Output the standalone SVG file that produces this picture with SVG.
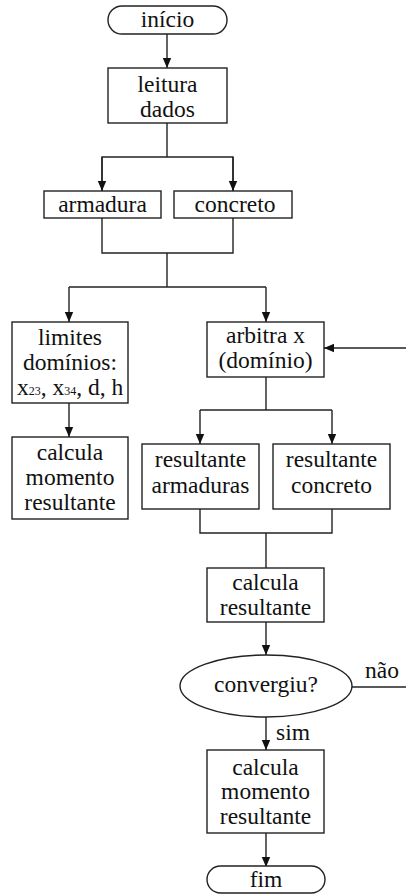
<svg xmlns="http://www.w3.org/2000/svg" width="406" height="894" viewBox="0 0 406 894">
  <style>
    .box { fill: #fff; stroke: #222; stroke-width: 1.4; }
    .wire { fill: none; stroke: #222; stroke-width: 1.4; }
    .lbl { font-family: "Liberation Serif", "Times New Roman", serif; font-size: 23.5px; fill: #111; text-anchor: middle; }
    .side { text-anchor: start; }
  </style>
  <defs>
    <marker id="arrow" markerUnits="userSpaceOnUse" markerWidth="10" markerHeight="10" refX="10" refY="5" orient="auto">
      <path d="M0,0.8 L10,5 L0,9.2 z" fill="#111"/>
    </marker>
  </defs>
  <rect width="406" height="894" fill="#fff"/>

  <!-- connectors -->
  <g id="connectors">
    <line class="wire" x1="167" y1="34" x2="167" y2="68" marker-end="url(#arrow)"/>
    <polyline class="wire" points="167,123 167,157"/>
    <polyline class="wire" points="102,191 102,157 233,157 233,191"/>
    <line class="wire" x1="102" y1="157" x2="102" y2="191" marker-end="url(#arrow)"/>
    <line class="wire" x1="233" y1="157" x2="233" y2="191" marker-end="url(#arrow)"/>
    <polyline class="wire" points="102,218 102,253 233,253 233,218"/>
    <polyline class="wire" points="167,253 167,287"/>
    <polyline class="wire" points="69,287 266,287"/>
    <line class="wire" x1="69" y1="287" x2="69" y2="322" marker-end="url(#arrow)"/>
    <line class="wire" x1="266" y1="287" x2="266" y2="322" marker-end="url(#arrow)"/>
    <line class="wire" x1="69" y1="403" x2="69" y2="437" marker-end="url(#arrow)"/>
    <line class="wire" x1="406" y1="348" x2="324" y2="348" marker-end="url(#arrow)"/>
    <polyline class="wire" points="266,377 266,410"/>
    <polyline class="wire" points="200,410 332,410"/>
    <line class="wire" x1="200" y1="410" x2="200" y2="444" marker-end="url(#arrow)"/>
    <line class="wire" x1="332" y1="410" x2="332" y2="444" marker-end="url(#arrow)"/>
    <polyline class="wire" points="200,509 200,533 332,533 332,509"/>
    <polyline class="wire" points="266,533 266,568"/>
    <line class="wire" x1="266" y1="622" x2="266" y2="655" marker-end="url(#arrow)"/>
    <line class="wire" x1="352" y1="687" x2="406" y2="687"/>
    <line class="wire" x1="266" y1="717" x2="266" y2="750" marker-end="url(#arrow)"/>
    <line class="wire" x1="266" y1="833" x2="266" y2="867" marker-end="url(#arrow)"/>
    <text class="lbl side" x="365" y="678">não</text>
    <text class="lbl side" x="276" y="740">sim</text>
  </g>

  <g id="inicio">
    <rect class="box" x="108" y="6" width="119" height="28" rx="14"/>
    <text class="lbl" x="167.5" y="27">início</text>
  </g>

  <g id="leitura">
    <rect class="box" x="108" y="68" width="119" height="55"/>
    <text class="lbl" x="167.5" y="92">leitura</text>
    <text class="lbl" x="167.5" y="117">dados</text>
  </g>

  <g id="armadura">
    <rect class="box" x="44" y="191" width="117" height="27"/>
    <text class="lbl" x="102.5" y="212">armadura</text>
  </g>

  <g id="concreto">
    <rect class="box" x="174" y="191" width="118" height="27"/>
    <text class="lbl" x="235" y="212">concreto</text>
  </g>

  <g id="limites">
    <rect class="box" x="12" y="322" width="116" height="81"/>
    <text class="lbl" x="70" y="345">limites</text>
    <text class="lbl" x="70" y="370">domínios:</text>
    <text class="lbl" x="70" y="395">x<tspan font-size="12">23</tspan>, x<tspan font-size="12">34</tspan>, d, h</text>
  </g>

  <g id="momento-esq">
    <rect class="box" x="12" y="437" width="116" height="82"/>
    <text class="lbl" x="70" y="460">calcula</text>
    <text class="lbl" x="70" y="485">momento</text>
    <text class="lbl" x="70" y="510">resultante</text>
  </g>

  <g id="arbitra">
    <rect class="box" x="207" y="322" width="117" height="55"/>
    <text class="lbl" x="265.5" y="343">arbitra x</text>
    <text class="lbl" x="265.5" y="368">(domínio)</text>
  </g>

  <g id="res-armaduras">
    <rect class="box" x="142" y="444" width="117" height="65"/>
    <text class="lbl" x="200.5" y="467">resultante</text>
    <text class="lbl" x="200.5" y="493">armaduras</text>
  </g>

  <g id="res-concreto">
    <rect class="box" x="273" y="444" width="117" height="65"/>
    <text class="lbl" x="331.5" y="467">resultante</text>
    <text class="lbl" x="331.5" y="493">concreto</text>
  </g>

  <g id="calcula-resultante">
    <rect class="box" x="207" y="568" width="117" height="54"/>
    <text class="lbl" x="265.5" y="590">calcula</text>
    <text class="lbl" x="265.5" y="615">resultante</text>
  </g>

  <g id="convergiu">
    <ellipse class="box" cx="266" cy="686" rx="86" ry="31"/>
    <text class="lbl" x="266" y="692">convergiu?</text>
  </g>

  <g id="momento-dir">
    <rect class="box" x="207" y="750" width="117" height="83"/>
    <text class="lbl" x="265.5" y="775">calcula</text>
    <text class="lbl" x="265.5" y="799">momento</text>
    <text class="lbl" x="265.5" y="824">resultante</text>
  </g>

  <g id="fim">
    <rect class="box" x="207" y="866" width="118" height="27" rx="13.5"/>
    <text class="lbl" x="266" y="887">fim</text>
  </g>
</svg>
